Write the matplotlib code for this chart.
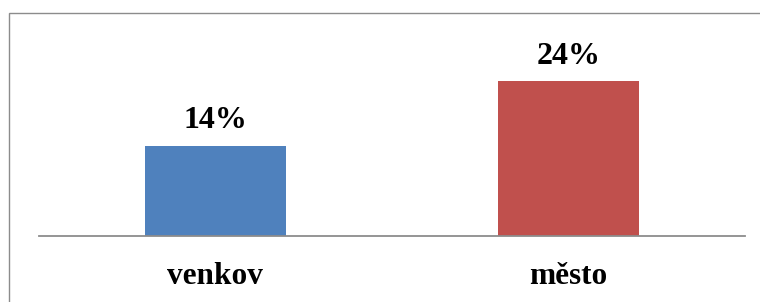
import matplotlib
matplotlib.use("Agg")
import matplotlib.pyplot as plt
from matplotlib.patches import Rectangle

categories = ["venkov", "město"]
values = [14, 24]
labels = ["14%", "24%"]
colors = ["#4F81BD", "#C0504D"]

W, H = 760, 302
fig = plt.figure(figsize=(W / 100, H / 100), dpi=100)

# outer chart border (top and left visible)
fig.patches.append(Rectangle((9 / W, -0.2), 1.0, (H - 13) / H + 0.2,
                             transform=fig.transFigure, fill=False,
                             edgecolor="#8c8c8c", linewidth=1.0))

ax_left, ax_right = 38.7, 745
ax_bottom, ax_top = 236, 20
ax = fig.add_axes([ax_left / W, (H - ax_bottom) / H,
                   (ax_right - ax_left) / W, (ax_bottom - ax_top) / H])

x = list(range(len(categories)))
ax.bar(x, values, width=0.40, color=colors, zorder=2)
ax.set_xlim(-0.5, 1.5)
ax.set_ylim(0, (ax_bottom - ax_top) / 6.46)

for xi, v, lab in zip(x, values, labels):
    ax.annotate(lab, (xi, v), xytext=(0, 12.5), textcoords="offset points",
                ha="center", va="baseline", fontsize=23, fontweight="bold",
                family="Liberation Serif")

ax.set_xticks(x)
ax.set_xticklabels(categories, fontsize=22.5, fontweight="bold",
                   family="Liberation Serif", va="baseline")
ax.tick_params(axis="x", length=0, pad=34.5)
ax.set_yticks([])
for s in ["top", "left", "right"]:
    ax.spines[s].set_visible(False)
ax.spines["bottom"].set_color("#8c8c8c")
ax.spines["bottom"].set_linewidth(1.3)
ax.spines["bottom"].set_zorder(3)
ax.patch.set_visible(False)

fig.savefig("out.png", dpi=100)
